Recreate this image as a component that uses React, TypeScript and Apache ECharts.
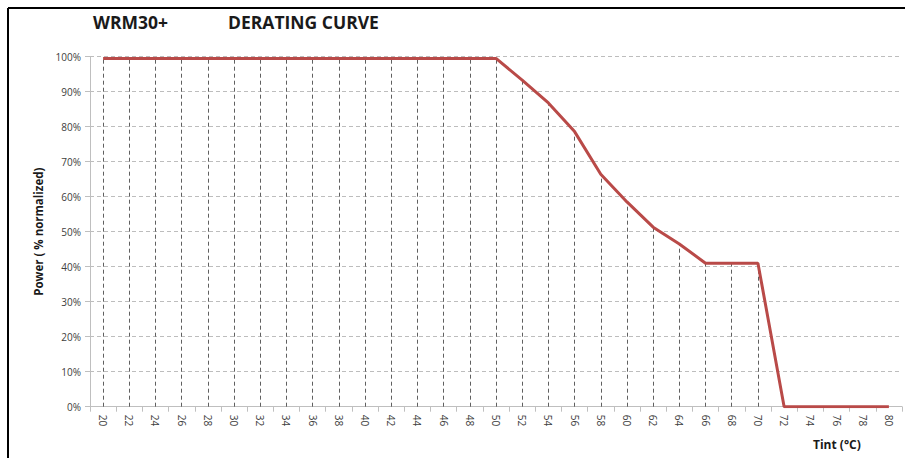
import React, { useEffect, useRef } from "react";
import * as echarts from "echarts";

const temperatures: string[] = [
  "20","22","24","26","28","30","32","34","36","38","40","42","44","46","48",
  "50","52","54","56","58","60","62","64","66","68","70","72","74","76","78","80",
];
const powerPercent: number[] = [
  99.5, 99.5, 99.5, 99.5, 99.5, 99.5, 99.5, 99.5, 99.5, 99.5, 99.5, 99.5, 99.5, 99.5, 99.5,
  99.5, 93.3, 86.8, 78.6, 66.4, 58.5, 51.3, 46.5, 41, 41, 41, 0, 0, 0, 0, 0,
];
const yTicks: number[] = [0, 10, 20, 30, 40, 50, 60, 70, 80, 90, 100];

export default function App() {
  const ref = useRef<HTMLDivElement>(null);
  useEffect(() => {
    if (!ref.current) return;
    const chart = echarts.init(ref.current, null, { renderer: "svg" });
    const dropLines = temperatures.map((t, i) => [
      { coord: [t, 0] },
      { coord: [t, powerPercent[i]] },
    ]);
    chart.setOption({
      animation: false,
      backgroundColor: "#ffffff",
      grid: { left: 90, right: 3, top: 56.7, bottom: 51.3, containLabel: false },
      graphic: [
        { type: "line", shape: { x1: 8, y1: 8, x2: 905, y2: 8 }, style: { stroke: "#000", lineWidth: 2 } },
        { type: "line", shape: { x1: 8, y1: 8, x2: 8, y2: 458 }, style: { stroke: "#000", lineWidth: 2 } },
        { type: "text", left: 93, top: 13, style: { text: "WRM30+", font: "bold 17.5px 'Open Sans', sans-serif", fill: "#1a1a1a" } },
        { type: "text", left: 228, top: 13, style: { text: "DERATING CURVE", font: "bold 17.5px 'Open Sans', sans-serif", fill: "#1a1a1a" } },
        { type: "text", left: 813, top: 438, style: { text: "Tint (°C)", font: "bold 12px 'Open Sans', sans-serif", fill: "#1a1a1a" } },
      ],
      xAxis: {
        type: "category",
        data: temperatures,
        boundaryGap: true,
        axisLine: { lineStyle: { color: "#bfbfbf", width: 1 } },
        axisTick: { show: true, interval: 0, length: 5, lineStyle: { color: "#bfbfbf" } },
        axisLabel: { interval: 0, rotate: -90, color: "#404040", fontSize: 10, fontFamily: "'Open Sans', sans-serif", margin: 8 },
        splitLine: { show: false },
      },
      yAxis: {
        type: "value",
        min: 0,
        max: 100,
        interval: 10,
        name: "Power ( % normalized)",
        nameLocation: "middle",
        nameGap: 44,
        nameTextStyle: { fontWeight: "bold", fontSize: 11.5, color: "#1a1a1a", fontFamily: "'Open Sans', sans-serif" },
        axisLine: { show: true, lineStyle: { color: "#bfbfbf" } },
        axisTick: { show: true, length: 5, lineStyle: { color: "#bfbfbf" } },
        axisLabel: {
          formatter: (v: number) => (yTicks.includes(v) ? v + "%" : ""),
          color: "#404040",
          fontSize: 10,
          fontFamily: "'Open Sans', sans-serif",
          margin: 9,
        },
        splitLine: { show: true, lineStyle: { color: "#bdbdbd", type: [4, 3], width: 1 } },
      },
      series: [
        {
          type: "line",
          data: powerPercent,
          symbol: "none",
          z: 5,
          lineStyle: { color: "#b94a48", width: 3 },
          markLine: {
            silent: true,
            symbol: ["none", "none"],
            label: { show: false },
            lineStyle: { color: "#606060", type: [4, 3], width: 1 },
            data: dropLines,
            z: 3,
          },
        },
      ],
    });
    return () => chart.dispose();
  }, []);
  return <div ref={ref} style={{ position: "fixed", left: 0, top: 0, width: 905, height: 458 }} />;
}
